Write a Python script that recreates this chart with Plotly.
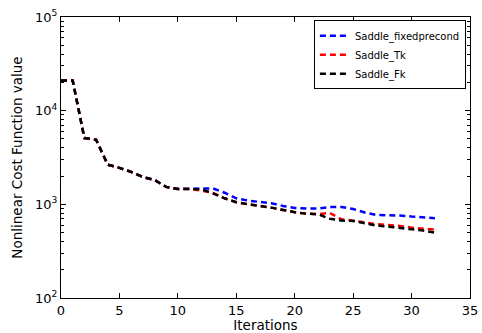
import plotly.graph_objects as go

iterations = list(range(0, 33))

saddle_fixedprecond = [21000, 21000, 5100, 4900, 2650, 2450, 2220, 1960, 1820, 1535, 1460, 1460,
                       1480, 1480, 1330, 1160, 1097, 1060, 1025, 962, 916, 900, 900, 938, 938,
                       891, 817, 771, 767, 760, 740, 728, 711]
saddle_tk = [21000, 21000, 5100, 4900, 2650, 2450, 2220, 1960, 1820, 1535, 1460, 1460,
             1400, 1330, 1160, 1052, 1000, 962, 922, 872, 824, 795, 785, 810, 692,
             670, 638, 613, 603, 589, 564, 550, 537]
saddle_fk = [21000, 21000, 5100, 4900, 2650, 2450, 2220, 1960, 1820, 1535, 1460, 1460,
             1450, 1310, 1160, 1052, 1000, 962, 922, 872, 824, 795, 783, 703, 670,
             665, 623, 593, 578, 564, 542, 524, 499]

y_tick_vals = [100, 1000, 10000, 100000]
y_tick_text = ["10<sup>2</sup>", "10<sup>3</sup>", "10<sup>4</sup>", "10<sup>5</sup>"]
x_tick_vals = [0, 5, 10, 15, 20, 25, 30, 35]

series = [
    ("Saddle_fixedprecond", saddle_fixedprecond, "#0000ff"),
    ("Saddle_Tk", saddle_tk, "#ff0000"),
    ("Saddle_Fk", saddle_fk, "#000000"),
]

fig = go.Figure()
for name, vals, color in series:
    fig.add_trace(go.Scatter(
        x=iterations, y=vals, mode="lines", name=name,
        line=dict(color=color, width=2.5, dash="6px,4px"),
    ))

font_family = "DejaVu Sans"
fig.update_layout(
    width=482, height=333,
    margin=dict(l=61, r=12, t=17, b=35),
    paper_bgcolor="white", plot_bgcolor="white",
    font=dict(family=font_family, size=13, color="black"),
    showlegend=True,
    legend=dict(
        x=0.990, y=0.988, xanchor="right", yanchor="top",
        bgcolor="white", bordercolor="black", borderwidth=1,
        font=dict(size=10, family=font_family),
        tracegroupgap=0, itemwidth=30,
    ),
    xaxis=dict(
        range=[0, 35], tickmode="array", tickvals=x_tick_vals,
        ticks="inside", ticklen=5, tickcolor="black", mirror="allticks",
        showline=True, linecolor="black", linewidth=1, showgrid=False, zeroline=False,
        title=dict(text="Iterations", font=dict(size=13.5), standoff=2),
        tickfont=dict(size=13), automargin=False,
    ),
    yaxis=dict(
        type="log", range=[2, 5], tickmode="array", tickvals=y_tick_vals, ticktext=y_tick_text,
        ticks="inside", ticklen=5, tickcolor="black", mirror="allticks",
        showline=True, linecolor="black", linewidth=1, showgrid=False, zeroline=False,
        minor=dict(ticks="inside", ticklen=3, tickcolor="black", showgrid=False,
                   tickvals=[m * 10 ** e for e in (2, 3, 4) for m in range(2, 10)]),
        title=dict(text="Nonlinear Cost Function value", font=dict(size=13.5), standoff=9),
        tickfont=dict(size=13), automargin=False,
    ),
)

fig.write_html(
    "out.html",
    config={"displayModeBar": False},
    post_script="document.body.style.margin='0';document.body.style.overflow='hidden';",
)
